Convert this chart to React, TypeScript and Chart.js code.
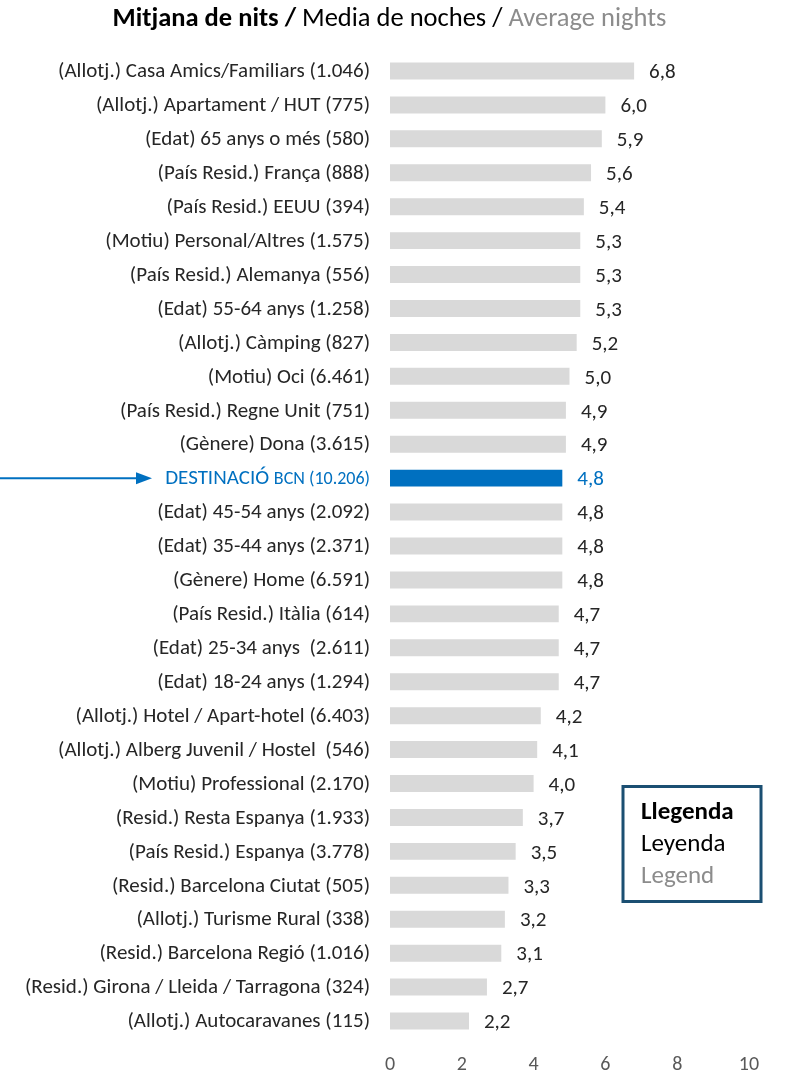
import React, { useEffect, useRef } from "react";
import { Chart, registerables } from "chart.js";
Chart.register(...registerables);

const categories: string[] = [
  "(Allotj.) Casa Amics/Familiars (1.046)",
  "(Allotj.) Apartament / HUT (775)",
  "(Edat) 65 anys o més (580)",
  "(País Resid.) França (888)",
  "(País Resid.) EEUU (394)",
  "(Motiu) Personal/Altres (1.575)",
  "(País Resid.) Alemanya (556)",
  "(Edat) 55-64 anys (1.258)",
  "(Allotj.) Càmping (827)",
  "(Motiu) Oci (6.461)",
  "(País Resid.) Regne Unit (751)",
  "(Gènere) Dona (3.615)",
  "DESTINACIÓ BCN (10.206)",
  "(Edat) 45-54 anys (2.092)",
  "(Edat) 35-44 anys (2.371)",
  "(Gènere) Home (6.591)",
  "(País Resid.) Itàlia (614)",
  "(Edat) 25-34 anys  (2.611)",
  "(Edat) 18-24 anys (1.294)",
  "(Allotj.) Hotel / Apart-hotel (6.403)",
  "(Allotj.) Alberg Juvenil / Hostel  (546)",
  "(Motiu) Professional (2.170)",
  "(Resid.) Resta Espanya (1.933)",
  "(País Resid.) Espanya (3.778)",
  "(Resid.) Barcelona Ciutat (505)",
  "(Allotj.) Turisme Rural (338)",
  "(Resid.) Barcelona Regió (1.016)",
  "(Resid.) Girona / Lleida / Tarragona (324)",
  "(Allotj.) Autocaravanes (115)",
];

const values: number[] = [
  6.8, 6.0, 5.9, 5.6, 5.4, 5.3, 5.3, 5.3, 5.2, 5.0, 4.9, 4.9, 4.8, 4.8, 4.8,
  4.8, 4.7, 4.7, 4.7, 4.2, 4.1, 4.0, 3.7, 3.5, 3.3, 3.2, 3.1, 2.7, 2.2,
];

const xTickValues: number[] = [0, 2, 4, 6, 8, 10];
const highlightIndex = 12;
const titleParts: string[] = ["Mitjana de nits / ", "Media de noches / ", "Average nights"];
const legendLines: string[] = ["Llegenda", "Leyenda", "Legend"];

const FONT = "Carlito, Calibri, Lato, 'Open Sans', sans-serif";
const GRAY_BAR = "#d9d9d9";
const BLUE = "#0070c0";
const TEXT = "#262626";
const LIGHT = "#8c8c8c";

const fmt = (v: number) => v.toFixed(1).replace(".", ",");

const overlayPlugin = {
  id: "overlay",
  afterDraw(chart: any) {
    const ctx: CanvasRenderingContext2D = chart.ctx;
    const y = chart.scales.y;
    const x = chart.scales.x;
    ctx.save();

    // Title
    const tFonts = [`bold 26.5px ${FONT}`, `26.5px ${FONT}`, `26.5px ${FONT}`];
    const tColors = ["#000000", "#000000", LIGHT];
    let total = 0;
    const widths = titleParts.map((p, i) => {
      ctx.font = tFonts[i];
      const w = ctx.measureText(p).width;
      total += w;
      return w;
    });
    let tx = 389.5 - total / 2;
    ctx.textBaseline = "middle";
    ctx.textAlign = "left";
    titleParts.forEach((p, i) => {
      ctx.font = tFonts[i];
      ctx.fillStyle = tColors[i];
      ctx.fillText(p, tx, 19);
      tx += widths[i];
    });

    // Category labels and value labels
    categories.forEach((c, i) => {
      const py = y.getPixelForValue(i);
      const labelRight = x.left - 20;
      if (i === highlightIndex) {
        const sp = c.indexOf(" ");
        const a = c.slice(0, sp + 1);
        const b = c.slice(sp + 1);
        ctx.fillStyle = BLUE;
        ctx.textAlign = "right";
        ctx.font = `18px ${FONT}`;
        const wb = ctx.measureText(b).width;
        ctx.fillText(b, labelRight, py + 1);
        ctx.font = `21px ${FONT}`;
        ctx.fillText(a, labelRight - wb, py + 1);
      } else {
        ctx.fillStyle = TEXT;
        ctx.textAlign = "right";
        ctx.font = `21px ${FONT}`;
        ctx.fillText(c, labelRight, py + 1);
      }
      const px = x.getPixelForValue(values[i]);
      ctx.textAlign = "left";
      ctx.font = `21px ${FONT}`;
      ctx.fillStyle = i === highlightIndex ? BLUE : TEXT;
      ctx.fillText(fmt(values[i]), px + 15, py + 2);
    });

    // Arrow pointing to the highlighted row
    const ay = y.getPixelForValue(highlightIndex);
    ctx.strokeStyle = BLUE;
    ctx.fillStyle = BLUE;
    ctx.lineWidth = 2;
    ctx.beginPath();
    ctx.moveTo(0, ay);
    ctx.lineTo(138, ay);
    ctx.stroke();
    ctx.beginPath();
    ctx.moveTo(136, ay - 6);
    ctx.lineTo(152, ay);
    ctx.lineTo(136, ay + 6);
    ctx.closePath();
    ctx.fill();

    // Legend box
    ctx.strokeStyle = "#1b4f72";
    ctx.lineWidth = 3;
    ctx.strokeRect(623, 786.5, 138, 115);
    ctx.textAlign = "left";
    ctx.textBaseline = "middle";
    const lFonts = [`bold 25px ${FONT}`, `25px ${FONT}`, `25px ${FONT}`];
    const lColors = ["#000000", "#000000", LIGHT];
    legendLines.forEach((l, i) => {
      ctx.font = lFonts[i];
      ctx.fillStyle = lColors[i];
      ctx.fillText(l, 641, 813 + i * 32);
    });

    ctx.restore();
  },
};

export default function App() {
  const ref = useRef<HTMLCanvasElement | null>(null);
  useEffect(() => {
    document.body.style.margin = "0";
    if (!ref.current) return;
    const chart = new Chart(ref.current, {
      type: "bar",
      data: {
        labels: categories,
        datasets: [
          {
            data: values,
            backgroundColor: values.map((_, i) => (i === highlightIndex ? BLUE : GRAY_BAR)),
            barPercentage: 0.5,
            categoryPercentage: 1,
            borderWidth: 0,
          },
        ],
      },
      options: {
        indexAxis: "y",
        animation: false,
        responsive: false,
        maintainAspectRatio: false,
        layout: { padding: { left: 390, right: 37, top: 54, bottom: 0 } },
        plugins: {
          legend: { display: false },
          title: { display: false },
          tooltip: { enabled: false },
        },
        scales: {
          x: {
            min: 0,
            max: 10,
            afterBuildTicks: (scale: any) => {
              scale.ticks = xTickValues.map((v) => ({ value: v }));
            },
            afterFit: (scale: any) => {
              scale.height = 37;
            },
            grid: { display: false, drawTicks: false },
            border: { display: false },
            ticks: {
              color: "#595959",
              font: { family: FONT, size: 20 },
              padding: 15,
            },
          },
          y: {
            display: false,
            grid: { display: false },
          },
        },
      },
      plugins: [overlayPlugin],
    } as any);
    return () => chart.destroy();
  }, []);
  return (
    <div style={{ position: "relative", width: 786, height: 1075 }}>
      <canvas ref={ref} width={786} height={1075} style={{ display: "block" }} />
    </div>
  );
}
